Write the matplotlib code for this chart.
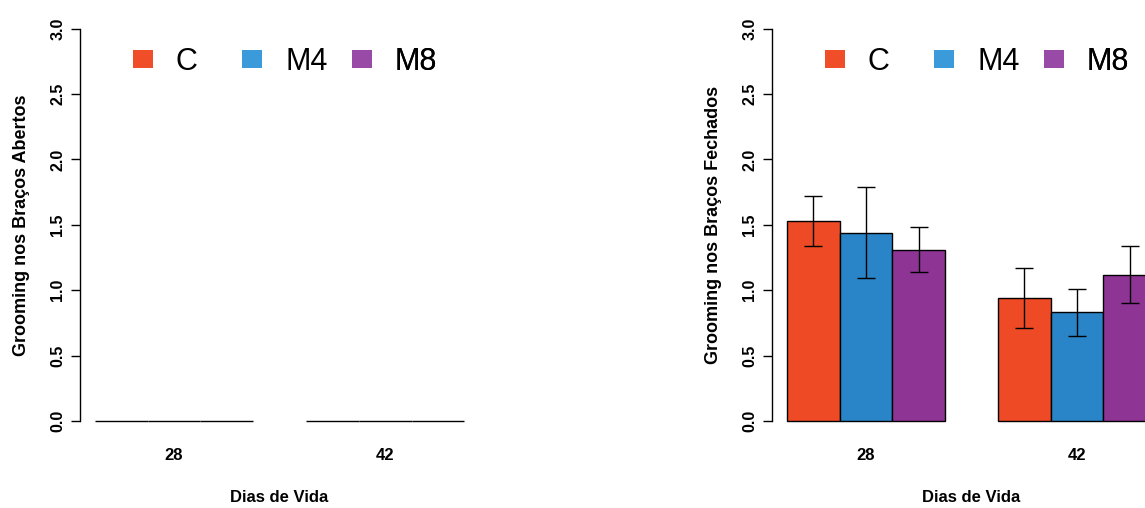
import matplotlib
matplotlib.use("Agg")
import matplotlib.pyplot as plt
import numpy as np
from matplotlib.patches import Patch

# data
days = ["28", "42"]
groups = ["C", "M4", "M8"]
# open arms: everything zero
open_means = [[0.0, 0.0, 0.0], [0.0, 0.0, 0.0]]
open_err = [[0.0, 0.0, 0.0], [0.0, 0.0, 0.0]]
# closed arms
closed_means = [[1.53, 1.44, 1.31], [0.94, 0.83, 1.12]]
closed_err = [[0.19, 0.35, 0.17], [0.23, 0.18, 0.22]]

bar_colors = ["#EE4A25", "#2A85C8", "#8E3494"]
leg_colors = ["#F04E28", "#3A9ADA", "#984AA6"]

plt.rcParams["font.family"] = ["Liberation Sans", "DejaVu Sans"]

fig = plt.figure(figsize=(11.45, 5.08), dpi=100)
ax1 = fig.add_axes([0.0699, 0.1404, 0.3485, 0.834])
ax2 = fig.add_axes([0.6742, 0.1404, 0.3485, 0.834])

# left edge of each legend entry, in axes fraction (R puts them evenly)
leg_x = [0.133, 0.407, 0.682]


def draw_panel(ax, means, errs, ylab):
    means = np.array(means)
    errs = np.array(errs)
    for g in range(len(days)):
        for k in range(len(groups)):
            x = 1.5 + g * 4 + k
            ax.bar(x, means[g, k], width=1.0, color=bar_colors[k],
                   edgecolor="black", linewidth=1.0)
            if errs[g, k] > 0:
                ax.errorbar(x, means[g, k], yerr=errs[g, k], fmt="none",
                            ecolor="black", elinewidth=1.0, capsize=6.5,
                            capthick=1.0)
    ax.set_xlim(0.72, 8.28)
    ax.set_ylim(-0.12, 3.12)
    ax.set_xticks([2.5 + 4 * g for g in range(len(days))])
    ax.set_xticklabels(days, fontweight="bold", fontsize=12)
    ax.set_yticks(np.arange(0, 3.01, 0.5))
    ax.set_yticklabels(["%.1f" % v for v in np.arange(0, 3.01, 0.5)],
                       rotation=90, va="center", fontweight="bold", fontsize=11.5)
    ax.tick_params(axis="x", length=0, pad=8.5)
    ax.tick_params(axis="y", length=6.5, width=1.0, pad=4)
    for s in ["top", "right", "bottom"]:
        ax.spines[s].set_visible(False)
    ax.spines["left"].set_bounds(0, 3)
    ax.spines["left"].set_linewidth(1.0)
    ax.set_xlabel("Dias de Vida", fontweight="bold", fontsize=12, labelpad=19)
    ax.set_ylabel(ylab, fontweight="bold", fontsize=13, labelpad=14.5)
    # one legend per entry so they sit evenly spaced like the R legend
    for k in range(len(groups)):
        leg = ax.legend([Patch(facecolor=leg_colors[k], edgecolor="none")],
                        [groups[k]], frameon=False, loc="center left",
                        bbox_to_anchor=(leg_x[k], 0.885), prop={"size": 22},
                        handlelength=0.65, handleheight=0.52, handletextpad=0.75,
                        borderaxespad=0, borderpad=0)
        ax.add_artist(leg)


draw_panel(ax1, open_means, open_err, "Grooming nos Braços Abertos")
draw_panel(ax2, closed_means, closed_err, "Grooming nos Braços Fechados")

fig.savefig("out.png", dpi=100)
